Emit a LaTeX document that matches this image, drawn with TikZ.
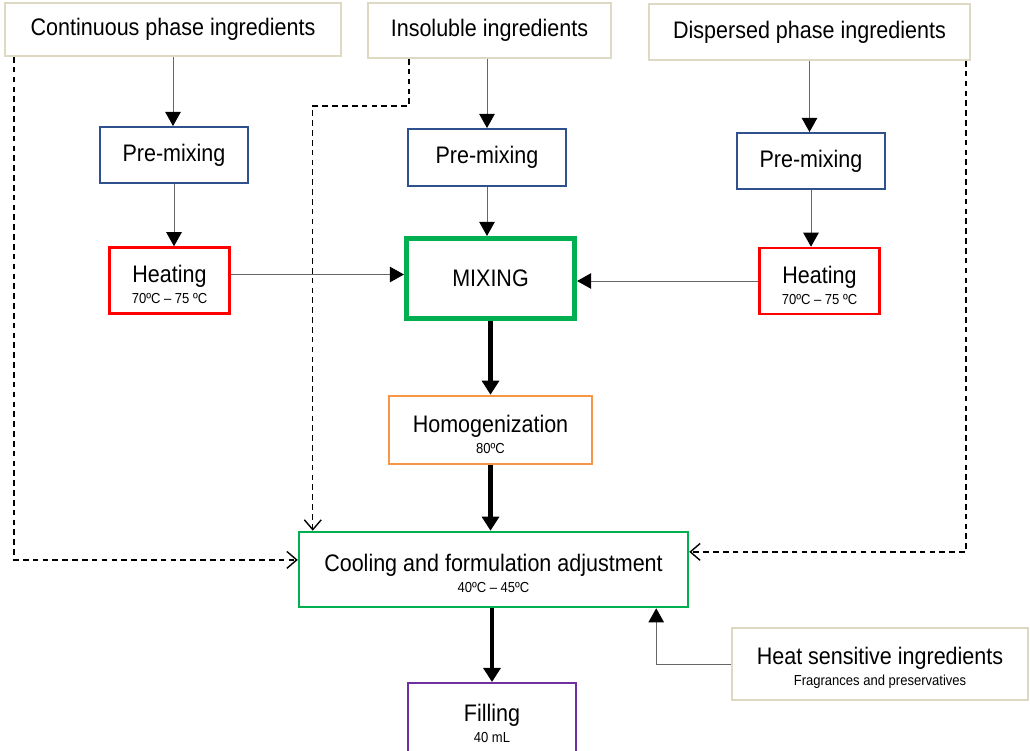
\documentclass[tikz,border=0pt]{standalone}
\usepackage{fontspec}
\setmainfont{Liberation Sans}[FakeStretch=0.9]
\usetikzlibrary{arrows.meta}
\definecolor{tanbd}{RGB}{221,217,195}
\definecolor{bluebd}{RGB}{47,82,143}
\definecolor{greenbd}{RGB}{0,176,80}
\definecolor{orangebd}{RGB}{247,150,70}
\definecolor{purplebd}{RGB}{112,48,160}
\definecolor{redbd}{RGB}{255,0,0}
\newcommand{\bigtxt}{\fontsize{17}{20}\selectfont}
\newcommand{\smalltxt}{\fontsize{10.3}{12}\selectfont}
\newcommand{\topstrut}{\rule{0pt}{18pt}}
\tikzset{
  box/.style={draw, line width=1.4pt, inner sep=0pt, align=center, font=\bigtxt},
  ingbox/.style={box, draw=tanbd},
  prebox/.style={box, draw=bluebd},
  heatbox/.style={box, draw=redbd, line width=1.8pt},
  thinarrow/.style={draw=black!60, line width=0.7pt, -{Triangle[length=10pt,width=11pt,color=black]}},
  thickarrow/.style={draw=black, line width=3.5pt, -{Triangle[length=10pt,width=12pt]}},
  dasharrow/.style={draw=black, line width=1pt, dash pattern=on 4pt off 3pt, -{Straight Barb[length=7pt,width=12pt]}}
}
\begin{document}
\begin{tikzpicture}[x=0.025cm, y=-0.025cm]
			%%%%% START %%%%%
			\useasboundingbox (0,0) rectangle (1030,750);
			\clip (0,0) rectangle (1030,750);
			
			% ingredient boxes
			\node[ingbox, minimum width=8.4cm, minimum height=1.325cm] (cont) at (173,29.5) {Continuous phase ingredients};
			\node[ingbox, minimum width=6.075cm, minimum height=1.375cm] (insol) at (489.5,30.5) {Insoluble ingredients};
			\node[ingbox, minimum width=8.025cm, minimum height=1.4cm] (disp) at (809.5,32) {Dispersed phase ingredients};
			
			% pre-mixing
			\node[prebox, minimum width=3.7cm, minimum height=1.4cm] (pre1) at (174,155) {Pre-mixing};
			\node[prebox, minimum width=3.95cm, minimum height=1.425cm] (pre2) at (487,157.5) {Pre-mixing};
			\node[prebox, minimum width=3.7cm, minimum height=1.4cm] (pre3) at (811,161) {Pre-mixing};
			
			% heating
			\node[heatbox, minimum width=3.0cm, minimum height=1.65cm] (heat1) at (169.5,280.5) {\topstrut Heating\\[-5pt]{\smalltxt 70ºC – 75 ºC}};
			\node[heatbox, minimum width=3.0cm, minimum height=1.65cm] (heat3) at (819.5,281) {\topstrut Heating\\[-5pt]{\smalltxt 70ºC – 75 ºC}};
			
			% main line
			\node[box, draw=greenbd, line width=3.6pt, minimum width=4.2cm, minimum height=2.0cm] (mix) at (490.5,278.5) {MIXING};
			\node[box, draw=orangebd, line width=1.8pt, minimum width=5.075cm, minimum height=1.7cm] (homog) at (490.5,430) {\topstrut Homogenization\\[-5pt]{\smalltxt 80ºC}};
			\node[box, draw=greenbd, line width=1.8pt, minimum width=9.72cm, minimum height=1.875cm] (cool) at (493.5,569.5) {\topstrut Cooling and formulation adjustment\\[-5pt]{\smalltxt 40ºC – 45ºC}};
			\node[box, draw=purplebd, line width=1.4pt, minimum width=4.2cm, minimum height=2.0cm] (fill) at (492,723) {Filling\\[-5pt]{\smalltxt 40 mL}};
			\node[ingbox, minimum width=7.4cm, minimum height=1.8cm] (hsi) at (880,664) {\topstrut Heat sensitive ingredients\\[-5pt]{\smalltxt Fragrances and preservatives}};
			
			% thin arrows
			\draw[thinarrow] (cont.south) -- (pre1.north -| cont.south);
			\draw[thinarrow] (pre1.south) -- (pre1.south |- heat1.north);
			\draw[thinarrow] (insol.south -| pre2.north) -- (pre2.north);
			\draw[thinarrow] (pre2.south) -- (pre2.south |- mix.north);
			\draw[thinarrow] (disp.south) -- (disp.south |- pre3.north);
			\draw[thinarrow] (pre3.south) -- (pre3.south |- heat3.north);
			\draw[thinarrow] ([yshift=0.15cm]heat1.east) -- ([yshift=0.15cm]heat1.east -| mix.west);
			\draw[thinarrow] (heat3.west) -- (heat3.west -| mix.east);
			\draw[thinarrow] (hsi.west) -| ([xshift=-0.825cm]cool.south east);
			
			% thick arrows
			\draw[thickarrow] (mix.south) -- (homog.north);
			\draw[thickarrow] (homog.south) -- (cool.north -| homog.south);
			\draw[thickarrow] (cool.south -| fill.north) -- (fill.north);
			
			% dashed bypasses
			\draw[dasharrow] ([xshift=0.25cm]cont.south west) |- ([yshift=0.24cm]cool.west);
			\draw[dasharrow] ([xshift=1.05cm]insol.south west) -- ++(0,-1.175cm) -| ([xshift=0.375cm]cool.north west);
			\draw[dasharrow] ([xshift=-0.125cm]disp.south east) |- ([yshift=0.44cm]cool.east);
			
			%%%%% END %%%%%
		\end{tikzpicture}
\end{document}
